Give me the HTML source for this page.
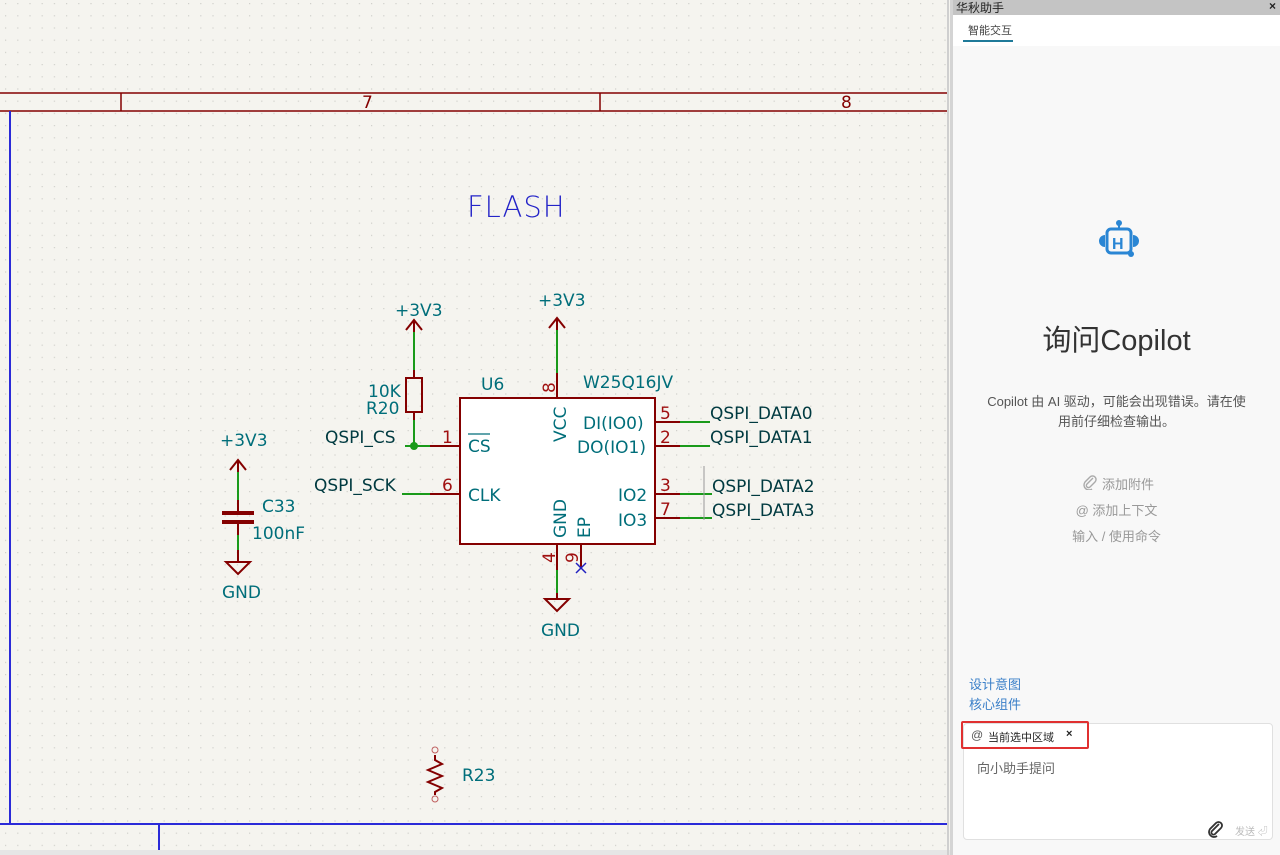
<!DOCTYPE html>
<html><head><meta charset="utf-8"><style>
html,body{margin:0;padding:0;width:1280px;height:855px;overflow:hidden;background:#f5f4ef;font-family:"Liberation Sans","Noto Sans CJK SC",sans-serif}
#sch{position:absolute;left:0;top:0}
#panel{position:absolute;left:950px;top:0;width:330px;height:855px;background:#f8f8f8;border-left:3px solid #d4d4d4;box-sizing:border-box}
.t{position:absolute;white-space:nowrap}
</style></head><body>
<svg id="sch" width="950" height="855" xmlns="http://www.w3.org/2000/svg">
<defs><pattern id="g" width="12.2" height="12.2" patternUnits="userSpaceOnUse" x="5" y="3"><rect x="0" y="0" width="1.2" height="1.2" fill="#cfcfca"/></pattern></defs>
<rect width="950" height="855" fill="#f5f4ef"/>
<rect width="948" height="850" fill="url(#g)"/>
<rect y="850" width="950" height="5" fill="#e6e6e6"/>
<g stroke="#840000" stroke-width="1.5" fill="none">
<line x1="0" y1="93" x2="948" y2="93"/><line x1="0" y1="111" x2="948" y2="111"/>
<line x1="121" y1="93" x2="121" y2="111"/><line x1="600" y1="93" x2="600" y2="111"/>
</g>
<g fill="#840000" font-family="DejaVu Sans,sans-serif" font-size="17"><text x="362" y="108">7</text><text x="841" y="108">8</text></g>
<g stroke="#2a2ad8" stroke-width="2" fill="none">
<line x1="10" y1="111" x2="10" y2="824"/><line x1="0" y1="824" x2="948" y2="824"/><line x1="159" y1="824" x2="159" y2="850"/>
</g>
<line x1="948" y1="0" x2="948" y2="855" stroke="#cfcfcf" stroke-width="2"/>
<text x="467" y="217" fill="#2424c8" font-size="29" letter-spacing="1" font-family="DejaVu Sans,sans-serif" font-weight="300">FLASH</text>
<rect x="460" y="398" width="195" height="146" fill="#ffffff" stroke="#840000" stroke-width="2"/>
<g stroke="#840000" stroke-width="2" fill="none">
<line x1="430" y1="446" x2="460" y2="446"/><line x1="430" y1="494" x2="460" y2="494"/>
<line x1="655" y1="422" x2="680" y2="422"/><line x1="655" y1="446" x2="680" y2="446"/>
<line x1="655" y1="494" x2="680" y2="494"/><line x1="655" y1="518" x2="680" y2="518"/>
<line x1="557" y1="398" x2="557" y2="373"/><line x1="557" y1="544" x2="557" y2="570"/><line x1="581" y1="544" x2="581" y2="568"/>
<line x1="557" y1="330" x2="557" y2="318"/><path d="M549 328 L557 318 L565 328"/>
<line x1="414" y1="332" x2="414" y2="320"/><path d="M406 330 L414 320 L422 330"/>
<line x1="238" y1="472" x2="238" y2="460"/><path d="M230 470 L238 460 L246 470"/>
<path d="M545 599 L569 599 L557 611 Z"/><line x1="557" y1="593" x2="557" y2="599"/>
<path d="M226 562 L250 562 L238 574 Z"/><line x1="238" y1="550" x2="238" y2="562"/>
<rect x="406" y="378" width="16" height="34"/>
<line x1="414" y1="412" x2="414" y2="420"/><line x1="414" y1="370" x2="414" y2="378"/>
<line x1="238" y1="500" x2="238" y2="513"/><line x1="238" y1="522" x2="238" y2="535"/>
<path d="M435 755 L435 760 L442 764 L428 770 L442 776 L428 782 L442 788 L435 792 L435 795"/>
</g>
<g stroke="#840000" stroke-width="4"><line x1="222" y1="513" x2="254" y2="513"/><line x1="222" y1="522" x2="254" y2="522"/></g>
<g fill="none" stroke="#c06060" stroke-width="1"><circle cx="435" cy="750" r="3"/><circle cx="435" cy="799" r="3"/></g>
<g stroke="#1a9a1a" stroke-width="2" fill="none">
<line x1="405" y1="446" x2="430" y2="446"/><line x1="414" y1="420" x2="414" y2="446"/><line x1="402" y1="494" x2="430" y2="494"/>
<line x1="680" y1="422" x2="710" y2="422"/><line x1="680" y1="446" x2="710" y2="446"/>
<line x1="680" y1="494" x2="712" y2="494"/><line x1="680" y1="518" x2="712" y2="518"/>
<line x1="557" y1="330" x2="557" y2="373"/><line x1="557" y1="570" x2="557" y2="593"/>
<line x1="414" y1="332" x2="414" y2="370"/>
<line x1="238" y1="472" x2="238" y2="500"/><line x1="238" y1="535" x2="238" y2="550"/>
</g>
<circle cx="414" cy="446" r="4" fill="#1a9a1a"/>
<line x1="704" y1="466" x2="704" y2="520" stroke="#999" stroke-width="1"/>
<g stroke="#2020c0" stroke-width="1.5"><line x1="576" y1="563" x2="586" y2="573"/><line x1="586" y1="563" x2="576" y2="573"/></g>
<g fill="#a01010" font-family="DejaVu Sans,sans-serif" font-size="17">
<text x="442" y="443">1</text><text x="442" y="491">6</text>
<text x="660" y="419">5</text><text x="660" y="443">2</text><text x="660" y="491">3</text><text x="660" y="515">7</text>
<text transform="translate(555,393) rotate(-90)">8</text>
<text transform="translate(555,563) rotate(-90)">4</text>
<text transform="translate(578,563) rotate(-90)">9</text>
</g>
<g fill="#006e7a" font-family="DejaVu Sans,sans-serif" font-size="17">
<text x="468" y="452">CS</text><line x1="468" y1="434" x2="490" y2="434" stroke="#006e7a" stroke-width="1.3"/>
<text x="468" y="501">CLK</text>
<text x="583" y="429">DI(IO0)</text><text x="577" y="453">DO(IO1)</text>
<text x="618" y="501">IO2</text><text x="618" y="526">IO3</text>
<text transform="translate(566,442) rotate(-90)">VCC</text>
<text transform="translate(566,538) rotate(-90)">GND</text>
<text transform="translate(590,538) rotate(-90)">EP</text>
<text x="481" y="390">U6</text><text x="583" y="388">W25Q16JV</text>
<text x="538" y="306">+3V3</text><text x="395" y="316">+3V3</text><text x="220" y="446">+3V3</text>
<text x="541" y="636">GND</text><text x="222" y="598">GND</text>
<text x="368" y="397">10K</text><text x="366" y="414">R20</text>
<text x="262" y="512">C33</text><text x="252" y="539">100nF</text>
<text x="462" y="781">R23</text>
<g fill="#003a40"><text x="325" y="443">QSPI_CS</text><text x="314" y="491">QSPI_SCK</text>
<text x="710" y="419">QSPI_DATA0</text><text x="710" y="443">QSPI_DATA1</text>
<text x="712" y="492">QSPI_DATA2</text><text x="712" y="516">QSPI_DATA3</text></g>
</g>
</svg>
<div id="panel">
<div style="position:absolute;left:0;top:0;width:330px;height:15px;background:#c4c4c4"></div>
<div class="t" style="left:3px;top:-1px;font-size:12px;color:#222">华秋助手</div>
<div class="t" style="right:4px;top:-1px;font-size:12px;color:#222;font-weight:bold">×</div>
<div style="position:absolute;left:0;top:15px;width:330px;height:31px;background:#fff"></div>
<div class="t" style="left:15px;top:22px;font-size:11px;color:#444">智能交互</div>
<div style="position:absolute;left:10px;top:40px;width:50px;height:2px;background:#1f7a99"></div>
<svg style="position:absolute;left:144px;top:220px" width="44" height="40">
<circle cx="22" cy="3" r="3" fill="#2a86d4"/><rect x="21" y="3" width="2" height="6" fill="#2a86d4"/>
<rect x="10" y="9" width="24" height="24" rx="4" fill="none" stroke="#2a86d4" stroke-width="3"/>
<path d="M8 15 a6 6 0 0 0 0 12 Z M36 15 a6 6 0 0 1 0 12 Z" fill="#2a86d4"/>
<text x="15" y="29" font-size="16" font-weight="bold" fill="#2a86d4" font-family="Liberation Sans,sans-serif">H</text>
<circle cx="34" cy="34" r="3" fill="#2a86d4"/></svg>
<div class="t" style="left:0;width:327px;text-align:center;top:317px;font-size:29px;color:#333">询问Copilot</div>
<div class="t" style="left:0;width:327px;text-align:center;top:392px;font-size:13px;color:#555;line-height:20px">Copilot 由 AI 驱动，可能会出现错误。请在使<br>用前仔细检查输出。</div>
<svg style="position:absolute;left:129px;top:474px" width="16" height="16"><path d="M11 4 L5 10 a2 2 0 0 0 3 3 L13 8 a3.5 3.5 0 0 0 -5 -5 L3 8 a5 5 0 0 0 7 7" fill="none" stroke="#aaa" stroke-width="1.4"/></svg>
<div class="t" style="left:149px;top:474px;font-size:13px;color:#999">添加附件</div>
<div class="t" style="left:0;width:327px;text-align:center;top:500px;font-size:13px;color:#999">@ 添加上下文</div>
<div class="t" style="left:0;width:327px;text-align:center;top:526px;font-size:13px;color:#999">输入 / 使用命令</div>
<div class="t" style="left:16px;top:674px;font-size:13px;color:#3a7fc8">设计意图</div>
<div class="t" style="left:16px;top:694px;font-size:13px;color:#3a7fc8">核心组件</div>
<div style="position:absolute;left:10px;top:723px;width:310px;height:117px;background:#fff;border:1px solid #e0e0e0;border-radius:4px;box-sizing:border-box"></div>
<div style="position:absolute;left:8px;top:721px;width:128px;height:28px;border:2px solid #e03030;border-radius:2px;box-sizing:border-box"></div>
<div class="t" style="left:18px;top:728px;font-size:12px;color:#555">@</div>
<div class="t" style="left:35px;top:729px;font-size:11px;color:#222">当前选中区域</div>
<div class="t" style="left:113px;top:728px;font-size:11px;color:#222;font-weight:bold">×</div>
<div class="t" style="left:24px;top:758px;font-size:13px;color:#666">向小助手提问</div>
<svg style="position:absolute;left:254px;top:820px" width="18" height="18"><path d="M12 4 L5 11 a2 2 0 0 0 3 3 L14 8 a3.5 3.5 0 0 0 -5 -5 L3 9 a5 5 0 0 0 7 7" fill="none" stroke="#333" stroke-width="1.8"/></svg>
<div class="t" style="left:282px;top:823px;font-size:10px;color:#bbb">发送 ⏎</div>
</div>
</body></html>
